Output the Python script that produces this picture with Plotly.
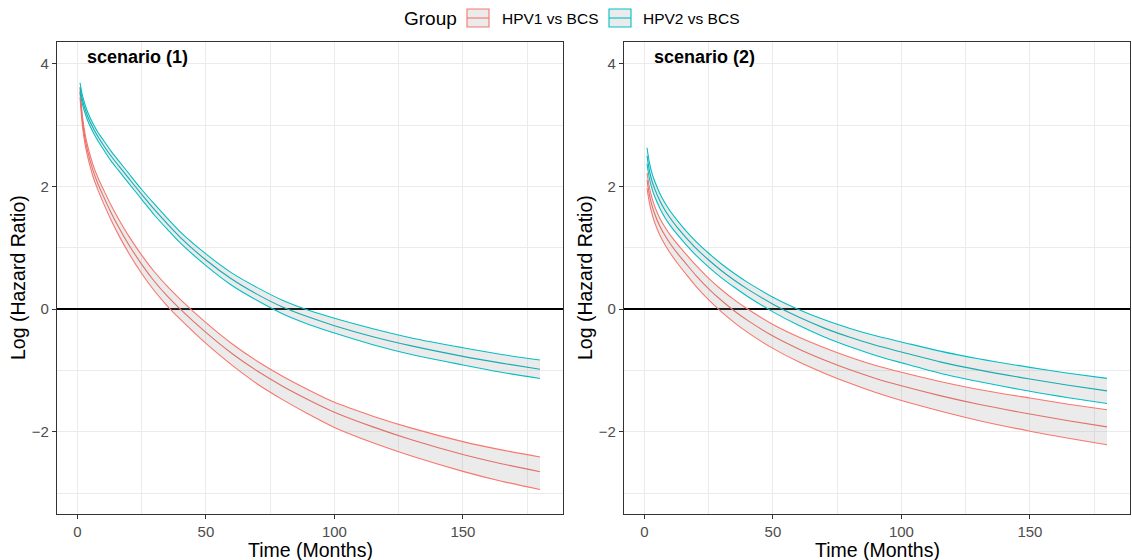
import plotly.graph_objects as go

# ---------------- data ----------------
time = [1, 2, 3, 4, 6, 8, 10, 13, 16, 20, 25, 30, 35, 40, 50, 60, 70, 80, 90, 100, 115, 130, 150, 165, 180]

# scenario (1)
s1_hpv1_mid = [3.53, 3.05, 2.77, 2.57, 2.27, 2.04, 1.85, 1.58, 1.34, 1.05, 0.73, 0.45, 0.21, 0.00, -0.38, -0.72, -1.01, -1.26, -1.48, -1.68, -1.92, -2.13, -2.37, -2.52, -2.65]
s1_hpv1_up = [3.60, 3.125, 2.85, 2.655, 2.36, 2.14, 1.96, 1.70, 1.47, 1.19, 0.88, 0.605, 0.37, 0.16, -0.22, -0.56, -0.85, -1.10, -1.32, -1.52, -1.745, -1.94, -2.16, -2.295, -2.41]
s1_hpv1_lo = [3.45, 2.965, 2.68, 2.48, 2.17, 1.94, 1.74, 1.46, 1.21, 0.91, 0.58, 0.295, 0.05, -0.165, -0.56, -0.91, -1.22, -1.48, -1.715, -1.93, -2.18, -2.395, -2.645, -2.805, -2.94]
s1_hpv2_mid = [3.62, 3.40, 3.26, 3.14, 2.96, 2.81, 2.68, 2.50, 2.34, 2.13, 1.87, 1.62, 1.39, 1.17, 0.80, 0.49, 0.24, 0.03, -0.13, -0.27, -0.45, -0.60, -0.77, -0.88, -0.98]
s1_hpv2_up = [3.69, 3.47, 3.33, 3.21, 3.03, 2.88, 2.76, 2.58, 2.42, 2.21, 1.95, 1.71, 1.48, 1.26, 0.90, 0.59, 0.35, 0.14, -0.02, -0.15, -0.32, -0.47, -0.63, -0.74, -0.83]
s1_hpv2_lo = [3.55, 3.33, 3.19, 3.07, 2.89, 2.74, 2.61, 2.42, 2.26, 2.05, 1.79, 1.53, 1.30, 1.08, 0.71, 0.39, 0.14, -0.08, -0.25, -0.39, -0.58, -0.74, -0.91, -1.03, -1.13]

# scenario (2)
s2_hpv1_mid = [2.10, 1.85, 1.68, 1.55, 1.35, 1.20, 1.07, 0.90, 0.75, 0.55, 0.33, 0.14, -0.03, -0.18, -0.44, -0.65, -0.83, -0.99, -1.13, -1.25, -1.41, -1.55, -1.71, -1.82, -1.92]
s2_hpv1_up = [2.22, 1.97, 1.805, 1.675, 1.48, 1.335, 1.21, 1.05, 0.905, 0.715, 0.50, 0.315, 0.15, 0.005, -0.25, -0.455, -0.63, -0.785, -0.92, -1.03, -1.18, -1.31, -1.45, -1.55, -1.64]
s2_hpv1_lo = [1.97, 1.72, 1.545, 1.41, 1.205, 1.05, 0.915, 0.74, 0.58, 0.375, 0.15, -0.045, -0.22, -0.375, -0.64, -0.86, -1.045, -1.21, -1.36, -1.49, -1.66, -1.815, -1.99, -2.105, -2.21]
s2_hpv2_mid = [2.50, 2.245, 2.08, 1.96, 1.765, 1.61, 1.485, 1.32, 1.175, 0.995, 0.80, 0.625, 0.47, 0.33, 0.08, -0.13, -0.31, -0.46, -0.59, -0.70, -0.86, -0.99, -1.14, -1.24, -1.333]
s2_hpv2_up = [2.63, 2.375, 2.205, 2.085, 1.885, 1.73, 1.60, 1.435, 1.285, 1.105, 0.91, 0.735, 0.58, 0.44, 0.195, -0.005, -0.175, -0.315, -0.435, -0.535, -0.685, -0.81, -0.95, -1.045, -1.13]
s2_hpv2_lo = [2.37, 2.115, 1.955, 1.835, 1.645, 1.49, 1.365, 1.205, 1.06, 0.88, 0.685, 0.51, 0.355, 0.21, -0.045, -0.265, -0.455, -0.615, -0.755, -0.874, -1.045, -1.18, -1.34, -1.445, -1.54]

groups = ["HPV1 vs BCS", "HPV2 vs BCS"]
panel_titles = ["scenario (1)", "scenario (2)"]
x_ticks = [0, 50, 100, 150]
x_minor = [25, 75, 125, 175]
y_ticks = [-2, 0, 2, 4]
y_tick_text = ["\u22122", "0", "2", "4"]
y_minor = [-3, -1, 1, 3]

# ---------------- style ----------------
W, H = 1132, 560
FONT = "Liberation Sans, Arial, Helvetica, sans-serif"
RED, TEAL = "#F8766D", "#00BFC4"
RED_MID, TEAL_MID = "#E2706A", "#12AEB3"
RIBBON = "rgba(153,153,153,0.2)"
GRID = "#EBEBEB"
BORDER = "#333333"

panels_px = [(57, 563), (624, 1130)]
top_px, bot_px = 42, 514


def px_x(p):
    return p / W


def px_y(p):
    return 1 - p / H


fig = go.Figure()

data = [
    [(s1_hpv1_lo, s1_hpv1_mid, s1_hpv1_up, RED, RED_MID),
     (s1_hpv2_lo, s1_hpv2_mid, s1_hpv2_up, TEAL, TEAL_MID)],
    [(s2_hpv1_lo, s2_hpv1_mid, s2_hpv1_up, RED, RED_MID),
     (s2_hpv2_lo, s2_hpv2_mid, s2_hpv2_up, TEAL, TEAL_MID)],
]

LS = dict(shape="spline", smoothing=0.8)

for i, pdata in enumerate(data):
    xa = "x" if i == 0 else "x2"
    ya = "y" if i == 0 else "y2"
    for (lo, mid, up, col, midcol), g in zip(pdata, groups):
        fig.add_trace(go.Scatter(x=time, y=lo, xaxis=xa, yaxis=ya, mode="lines",
                                 line=dict(width=0, **LS), showlegend=False, hoverinfo="skip"))
        fig.add_trace(go.Scatter(x=time, y=up, xaxis=xa, yaxis=ya, mode="lines",
                                 fill="tonexty", fillcolor=RIBBON,
                                 line=dict(width=0, **LS), showlegend=False, hoverinfo="skip"))
    for (lo, mid, up, col, midcol), g in zip(pdata, groups):
        for yy, c in ((lo, col), (up, col), (mid, midcol)):
            fig.add_trace(go.Scatter(x=time, y=yy, xaxis=xa, yaxis=ya, mode="lines",
                                     line=dict(color=c, width=1.1, **LS), showlegend=False, name=g))

axis_common = dict(
    showline=True, mirror=True, linecolor=BORDER, linewidth=1.1,
    ticks="outside", ticklen=4, tickcolor=BORDER, tickwidth=1.1,
    tickfont=dict(family=FONT, size=15, color="#4D4D4D"),
    showgrid=True, gridcolor=GRID, gridwidth=1.1,
)

for i, (l, r) in enumerate(panels_px):
    sfx = "" if i == 0 else "2"
    fig.layout["xaxis" + sfx] = dict(
        axis_common, domain=[px_x(l), px_x(r)], range=[-7.95, 188.95],
        tickvals=x_ticks, ticktext=[str(v) for v in x_ticks], zeroline=False,
        anchor="y" + sfx,
        minor=dict(tickvals=x_minor, showgrid=True, gridcolor=GRID, gridwidth=0.6, ticks=""),
    )
    fig.layout["yaxis" + sfx] = dict(
        axis_common, domain=[px_y(bot_px), px_y(top_px)], range=[-3.34, 4.354],
        tickvals=y_ticks, ticktext=y_tick_text,
        zeroline=True, zerolinecolor="black", zerolinewidth=1.7,
        anchor="x" + sfx,
        minor=dict(tickvals=y_minor, showgrid=True, gridcolor=GRID, gridwidth=0.6, ticks=""),
    )

annotations = []
for i, (l, r) in enumerate(panels_px):
    off = 0 if i == 0 else 567
    annotations.append(dict(text="Log (Hazard Ratio)", textangle=-90, x=px_x(18 + off), y=px_y((top_px + bot_px) / 2),
                            xref="paper", yref="paper", showarrow=False, xanchor="center", yanchor="middle",
                            font=dict(family=FONT, size=19.5, color="black")))
    annotations.append(dict(text="Time (Months)", x=px_x((l + r) / 2), y=px_y(549.5),
                            xref="paper", yref="paper", showarrow=False, xanchor="center", yanchor="middle",
                            font=dict(family=FONT, size=19.5, color="black")))
    annotations.append(dict(text="<b>" + panel_titles[i] + "</b>", x=px_x(l + 28), y=px_y(57),
                            xref="paper", yref="paper", showarrow=False, xanchor="left", yanchor="middle",
                            font=dict(family=FONT, size=18, color="black")))

# legend (ggplot-style, at top)
annotations.append(dict(text="Group", x=px_x(402), y=px_y(18), xref="paper", yref="paper", showarrow=False,
                        xanchor="left", yanchor="middle", font=dict(family=FONT, size=19, color="black")))
shapes = []
for (kx0, kx1, tx, col, lab) in [(467, 489, 500, RED, groups[0]), (609, 631, 641, TEAL, groups[1])]:
    shapes.append(dict(type="rect", xref="paper", yref="paper", x0=px_x(kx0), x1=px_x(kx1),
                       y0=px_y(27), y1=px_y(9), fillcolor="#EBEBEB", line=dict(color=col, width=1.1)))
    shapes.append(dict(type="line", xref="paper", yref="paper", x0=px_x(kx0), x1=px_x(kx1),
                       y0=px_y(18), y1=px_y(18), line=dict(color=col, width=1.1)))
    annotations.append(dict(text=lab, x=px_x(tx), y=px_y(18), xref="paper", yref="paper", showarrow=False,
                            xanchor="left", yanchor="middle", font=dict(family=FONT, size=15.5, color="black")))

fig.update_layout(
    width=W, height=H, margin=dict(l=0, r=0, t=0, b=0),
    paper_bgcolor="white", plot_bgcolor="white",
    showlegend=False, annotations=annotations, shapes=shapes,
    font=dict(family=FONT),
)

fig.write_html("out.html", config={"displayModeBar": False},
               post_script="document.body.style.margin='0px';document.body.style.overflow='hidden';")
